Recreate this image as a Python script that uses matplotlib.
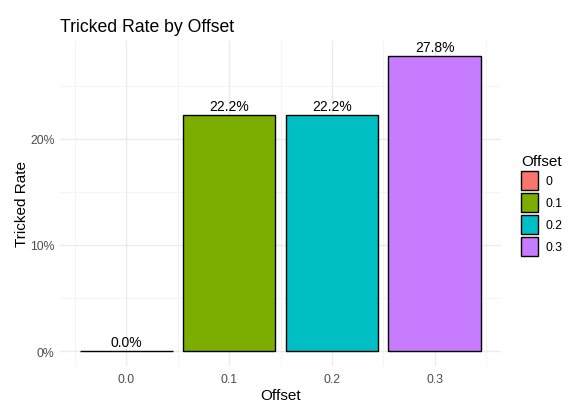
import matplotlib.pyplot as plt
from matplotlib.patches import Patch
from matplotlib.ticker import FixedLocator, FuncFormatter

offsets = [0.0, 0.1, 0.2, 0.3]
offset_labels = ["0", "0.1", "0.2", "0.3"]
rates = [0.0, 0.222, 0.222, 0.278]
colors = ["#F8766D", "#7CAE00", "#00BFC4", "#C77CFF"]

plt.rcParams['font.family'] = ['Liberation Sans', 'DejaVu Sans']

fig = plt.figure(figsize=(5.87, 4.10), dpi=100)
ax = fig.add_axes([60 / 587, 43 / 410, 441 / 587, 325 / 410])

bar_w = 0.09
ax.bar(offsets, rates, width=bar_w, color=colors, edgecolor="black", linewidth=1.0, zorder=3)
for x, r in zip(offsets, rates):
    ax.text(x, r + 0.002, f"{r * 100:.1f}%", ha="center", va="bottom", fontsize=10, color="black", zorder=4)

lo, hi = offsets[0] - bar_w / 2, offsets[-1] + bar_w / 2
pad = (hi - lo) * 0.05
ax.set_xlim(lo - pad, hi + pad)
ytop = max(rates)
ax.set_ylim(-ytop * 0.05, ytop * 1.05)

ax.xaxis.set_major_locator(FixedLocator(offsets))
ax.xaxis.set_minor_locator(FixedLocator([-0.05, 0.05, 0.15, 0.25, 0.35]))
ax.xaxis.set_major_formatter(FuncFormatter(lambda v, p: f"{v:.1f}"))
ax.yaxis.set_major_locator(FixedLocator([0, 0.1, 0.2]))
ax.yaxis.set_minor_locator(FixedLocator([0.05, 0.15, 0.25]))
ax.yaxis.set_major_formatter(FuncFormatter(lambda v, p: f"{v * 100:.0f}%"))

ax.grid(which="major", color="#ebebeb", linewidth=1.0, zorder=0)
ax.grid(which="minor", color="#f3f3f3", linewidth=0.6, zorder=0)
for s in ax.spines.values():
    s.set_visible(False)
ax.tick_params(axis="x", which="both", length=0, labelsize=8.8, labelcolor="#4d4d4d", pad=5)
ax.tick_params(axis="y", which="both", length=0, labelsize=8.8, labelcolor="#4d4d4d", pad=4)

ax.set_xlabel("Offset", fontsize=11, labelpad=2)
ax.set_ylabel("Tricked Rate", fontsize=11, labelpad=1)
ax.set_title("Tricked Rate by Offset", fontsize=12.7, loc="left", x=0.0, pad=7)

handles = [Patch(facecolor=c, edgecolor="black", linewidth=1.0) for c in colors]
leg = fig.legend(handles, offset_labels, title="Offset", loc="upper left",
                 bbox_to_anchor=(510 / 587, 1 - 144 / 410), frameon=False,
                 fontsize=8.8, title_fontsize=11, handlelength=1.4, handleheight=2.0,
                 handletextpad=0.6, labelspacing=0.25, alignment="left")

fig.savefig("out.png", dpi=100)
